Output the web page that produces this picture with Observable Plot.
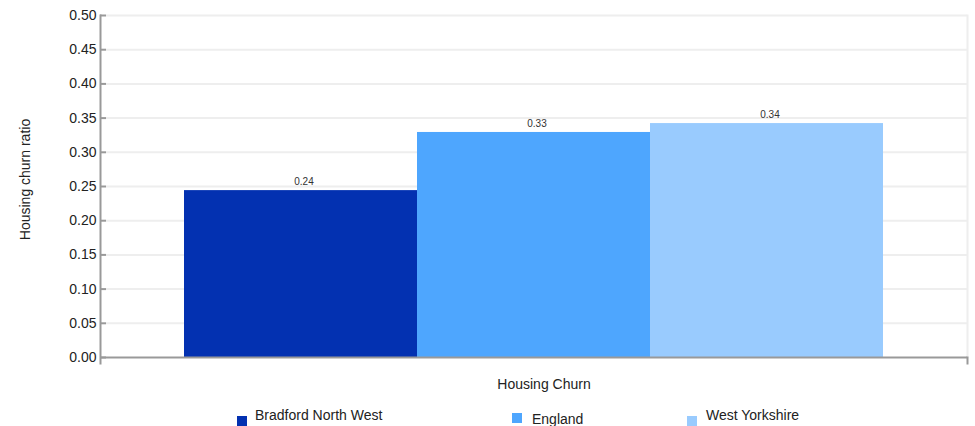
<!DOCTYPE html>
<html>
<head>
<meta charset="utf-8">
<script src="https://cdn.jsdelivr.net/npm/d3@7"></script>
<script src="https://cdn.jsdelivr.net/npm/@observablehq/plot@0.6"></script>
<style>
  body { margin: 0; background: #fff; font-family: "Liberation Sans", Arial, sans-serif; }
  #wrap { position: relative; width: 975px; height: 426px; overflow: hidden; }
  .leg { position: absolute; font-size: 14px; color: #222; white-space: nowrap; line-height: 16px; }
  .sw { position: absolute; width: 10px; height: 10px; }
</style>
</head>
<body>
<div id="wrap"></div>
<script>
const series = ["Bradford North West", "England", "West Yorkshire"];
const values = [0.244, 0.329, 0.342];
const colors = ["#0331b1", "#4ea6fe", "#99cbfe"];
const yTicks = [0, 0.05, 0.10, 0.15, 0.20, 0.25, 0.30, 0.35, 0.40, 0.45, 0.50];
const xTitle = "Housing Churn";
const yTitle = "Housing churn ratio";

const data = series.map((s, i) => ({series: s, value: values[i]}));

const W = 975, H = 405, mL = 100, mR = 8, mT = 15, mB = 48;
const innerW = W - mL - mR;

const chart = Plot.plot({
  width: W, height: H,
  marginLeft: mL, marginRight: mR, marginTop: mT, marginBottom: mB,
  style: {fontFamily: "'Liberation Sans', Arial, sans-serif", background: "#fff"},
  x: {type: "band", domain: series, padding: 0, insetLeft: 84, insetRight: 84, axis: null},
  y: {domain: [0, 0.5], ticks: yTicks, axis: null},
  color: {domain: series, range: colors},
  marks: [
    Plot.ruleY(yTicks.slice(1), {y: d => d, stroke: "#eeeeee", strokeWidth: 2, insetLeft: 6}),
    Plot.frame({anchor: "right", stroke: "#eeeeee", strokeWidth: 2}),
    Plot.barY(data, {x: "series", y: "value", fill: "series"}),
    Plot.text(data, {x: "series", y: "value", text: d => d3.format(".2f")(d.value), dx: 3, dy: -9, fontSize: 10, fill: "#333"}),
    Plot.ruleY(yTicks, {y: d => d, stroke: "#999", strokeWidth: 2, insetRight: innerW - 6}),
    Plot.ruleY([0], {stroke: "#999", strokeWidth: 2}),
    Plot.frame({anchor: "left", stroke: "#999", strokeWidth: 2, insetBottom: -6}),
    Plot.frame({anchor: "right", stroke: "#999", strokeWidth: 2, insetTop: H - mT - mB, insetBottom: -6}),
    Plot.axisY(yTicks, {tickSize: 0, tickPadding: 4, tickFormat: d3.format(".2f"), fontSize: 14, fill: "#222", label: null}),
    Plot.text([xTitle], {frameAnchor: "bottom", dx: 10, dy: 31, fontSize: 14, fill: "#222"}),
    Plot.text([yTitle], {frameAnchor: "left", textAnchor: "middle", rotate: -90, dx: -75, dy: -7, fontSize: 14, fill: "#222"})
  ]
});

const wrap = document.getElementById("wrap");
wrap.appendChild(chart);

const legPos = [
  {sx: 237, sy: 416, tx: 255, ty: 407},
  {sx: 512, sy: 413, tx: 532, ty: 411},
  {sx: 687, sy: 416, tx: 706, ty: 407}
];
series.forEach((s, i) => {
  const p = legPos[i];
  const sw = document.createElement("div");
  sw.className = "sw";
  sw.style.left = p.sx + "px"; sw.style.top = p.sy + "px"; sw.style.background = colors[i];
  wrap.appendChild(sw);
  const t = document.createElement("div");
  t.className = "leg";
  t.style.left = p.tx + "px"; t.style.top = p.ty + "px";
  t.textContent = s;
  wrap.appendChild(t);
});
</script>
</body>
</html>
